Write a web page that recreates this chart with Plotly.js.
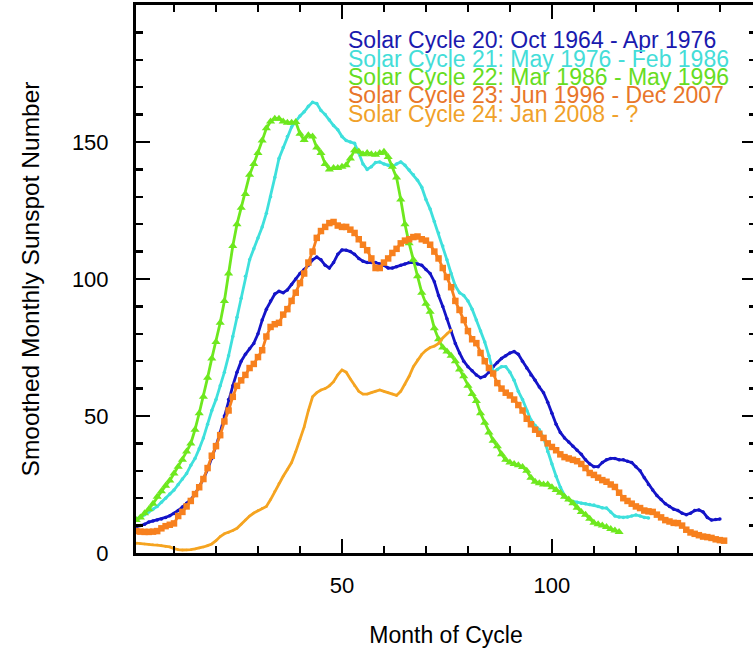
<!DOCTYPE html>
<html>
<head>
<meta charset="utf-8">
<script src="https://cdn.plot.ly/plotly-3.0.1.min.js"></script>
<style>
html,body{margin:0;padding:0;overflow:hidden;background:#fff;}
#chart{width:756px;height:653px;}
</style>
</head>
<body>
<div id="chart"></div>
<script>
// Smoothed monthly sunspot number by month of cycle
const cycle20 = [9.5,10,10.5,11.3,11.7,12,12.4,13,13.6,14.4,15.5,16.8,18.2,19.5,21.5,24,27,30.5,34.5,39,44,50,56,61,66,70,72.5,74.5,76.5,80,85,89,92,94.5,95.5,95,96,98,100,102,103.5,105,107,108,107,105,104,106,109,110.6,110.5,110,109,107.5,106.5,106,106,106,105.5,105,104,104,104.5,105,105.5,106,106,105.5,105,103.5,102,99,94,90,85.5,81,76.5,73,70,68,66.5,65,64,64.5,66,68,69.5,71,72,73,73.5,72.5,70,67.5,65,63,60.6,58.5,55,51,47,44,42,40.5,39,37.5,36,34,32.5,31.5,31.5,33,34,34.5,34.5,34,34,33.5,33,31.5,30,27.5,25,23,21,19.5,18,17,16,15.5,14.5,14,14.5,15.5,15.7,15,13,12,12.2,12.4];
const cycle21 = [12.5,13,14,15,16,17,18.5,20,21.5,23,25,27,29,32,34.5,38,42,47,52,56,61,66,72,79,86,93,101,107,111,115,119,124,130,137,144,148,152,155.5,157.5,159.5,161,163,164.5,164,161.5,160,158,156,154.5,152,150.5,150,149.5,146,142,140,141,142.5,142.7,142,141.5,141,142,142.7,141.5,139.8,138,136,133.5,129,125.5,121,116.8,112,107,102,97.5,95,94,92,89,85,81,77,72,66,67,68,68,66,63,59,56,52,48.5,46.5,45,42,37,32.5,28,24,21,19.5,18.8,18.5,18.2,18,17.7,17.5,17,16.5,16.4,15,13.5,13.1,13,13.1,13.5,13.9,13.5,13,12.8];
const cycle22 = [12,13,14.5,16,18,20.5,22.5,24.5,26.5,29,31.5,34,37,40,45,51,57,64,71,77,84,92,102,112,120,126,131,138,142,146,150.5,155,157.5,158.5,158.5,157.5,157,157,157.3,153,150.7,152.5,152,148,146,142,140,140.5,140.5,141,141.5,144,147,146.5,145.5,146,145.5,145.3,146,146.4,144.5,141,137,129,120,113,107,101,95,91,88,82,78,75,73.5,72,70,67,64.5,61,58,55.5,51,47.5,44,41,39,36,34,33,32.5,32,31.4,30,27.5,26,25.5,25,25,24,23,22,20.5,19.5,18.2,16.5,15,14,12.5,11,10.5,10,9.5,8.8,8.2,7.7];
const cycle23 = [8,7.8,7.7,7.7,7.8,8,9,9.8,10.3,10.8,13.5,15,17,19,21.5,24,27,31,35.5,39,43,48,52,57,61,63,65,67.5,69,71.5,74,79,82.5,83.5,84,87,89,92,95,98.5,102,106,110,115,117.5,119,120.4,120.8,119.5,119,119,118,116.8,114.5,112.5,110.5,107.5,104,104,106,107.5,109.5,111,113,114,114.5,115.3,115.5,114.5,114,112.5,110,107.5,104,100.7,97,92,88.7,85,81,78,76.6,73,70,67.5,65.5,62,60,58.5,57.5,56,54,52,49,47,45,43.5,42,40,38.7,37.5,36,35,34.5,34,33.5,32.5,31,29.2,28.5,27.5,26.6,26,25,24.1,22,20,19,18,17,16.4,15.5,15.2,15,14,13,12,11.5,11,10.9,10,8.5,7.5,7,6.5,6,5.8,5.5,5,4.7,4.5];
const cycle24 = [3.6,3.4,3.3,3.2,3,2.9,2.7,2.4,2.2,1.6,1.2,1.1,1.1,1.2,1.5,1.8,2.2,2.7,3.3,4.5,6,7,7.5,8.2,9,10.5,12,13.5,14.6,15.5,16.3,17,19.5,22.5,25.5,28,30.5,33,37,41.5,46,52,57,58.5,59.5,60,61,62.5,65,66.8,66,63.5,61,59,58,58,58.5,59,59.5,59,58.5,58,57.5,59,61.5,64.5,68,70.5,72.5,74,75,75.5,76.5,78.5,80,81.4];

const legendLabels = [
  "Solar Cycle 20: Oct 1964 - Apr 1976",
  "Solar Cycle 21: May 1976 - Feb 1986",
  "Solar Cycle 22: Mar 1986 - May 1996",
  "Solar Cycle 23: Jun 1996 - Dec 2007",
  "Solar Cycle 24: Jan 2008 - ?"
];
const xTickVals = [50, 100];
const yTickVals = [0, 50, 100, 150];

const series = [
  {y: cycle20, color: '#1414c8', text: '#1a1aae', symbol: 'circle', size: 3.5},
  {y: cycle21, color: '#3ee0dc', text: '#44ddd8', symbol: 'circle', size: 3.5},
  {y: cycle22, color: '#6ee81e', text: '#66dd22', symbol: 'triangle-up', size: 8},
  {y: cycle23, color: '#f7801e', text: '#e8762a', symbol: 'square', size: 6.5},
  {y: cycle24, color: '#f5a421', text: '#f0a12a', symbol: 'circle', size: 2.5}
];

const traces = series.map(s => ({
  type: 'scatter',
  mode: 'lines+markers',
  x: s.y.map((v, i) => i + 1),
  y: s.y,
  line: {color: s.color, width: 2.8},
  marker: {color: s.color, symbol: s.symbol, size: s.size, line: {width: 0}},
  hoverinfo: 'skip',
  showlegend: false
}));

const yPos = [0.936, 0.902, 0.868, 0.835, 0.801];
const annotations = legendLabels.map((t, i) => ({
  text: t, xref: 'paper', yref: 'paper', x: 0.339, y: yPos[i],
  xanchor: 'left', yanchor: 'middle', showarrow: false,
  font: {family: 'Liberation Sans, Arial, sans-serif', size: 23, color: series[i].text}
}));

const axisCommon = {
  showline: true, linecolor: '#000', linewidth: 3,
  ticks: 'inside', ticklen: 14, tickwidth: 2.5, tickcolor: '#000',
  mirror: 'ticks', showgrid: false, zeroline: false,
  tickfont: {family: 'Liberation Sans, Arial, sans-serif', size: 22, color: '#000'}
};

const layout = {
  width: 756, height: 653,
  margin: {l: 136, r: 0, t: 5, b: 100},
  paper_bgcolor: '#fff', plot_bgcolor: '#fff',
  xaxis: Object.assign({}, axisCommon, {
    range: [0.95, 148.6],
    tickmode: 'array', tickvals: xTickVals, ticktext: xTickVals.map(String),
    minor: {tickmode: 'linear', tick0: 0, dtick: 10, ticks: 'inside', ticklen: 7, tickwidth: 2.5, tickcolor: '#000'},
    ticklabelstandoff: 11,
    title: {text: 'Month of Cycle', standoff: 30, font: {family: 'Liberation Sans, Arial, sans-serif', size: 23, color: '#000'}}
  }),
  yaxis: Object.assign({}, axisCommon, {
    range: [0, 199.99],
    tickmode: 'array', tickvals: yTickVals, ticktext: yTickVals.map(String),
    minor: {tickmode: 'linear', tick0: 0, dtick: 10, ticks: 'inside', ticklen: 7, tickwidth: 2.5, tickcolor: '#000'},
    ticklabelstandoff: 20,
    title: {text: 'Smoothed Monthly Sunspot Number', standoff: 26, font: {family: 'Liberation Sans, Arial, sans-serif', size: 24.5, color: '#000'}}
  }),
  annotations: annotations
};

Plotly.newPlot('chart', traces, layout, {displayModeBar: false, staticPlot: true});
</script>
</body>
</html>
